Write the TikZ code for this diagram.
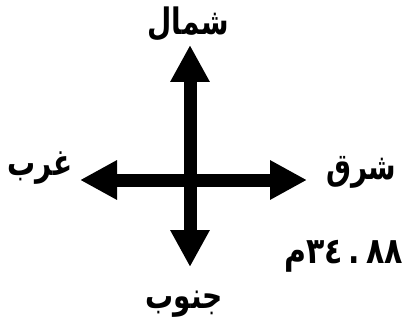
\documentclass[tikz,border=0pt]{standalone}
\usepackage{fontspec}
\usepackage{graphicx}
\usetikzlibrary{arrows.meta}
\newfontfamily\arabicfont[Script=Arabic]{DejaVu Sans}
\TeXXeTstate=1
\newcommand{\tallar}[1]{\scalebox{1}[1.3]{\beginR #1\endR}}
\tikzset{
  compass/.style={line width=13pt, {Triangle[length=37pt,width=37pt]}-{Triangle[length=37pt,width=37pt]}},
  lbl/.style={font=\arabicfont\bfseries\fontsize{28}{32}\selectfont, inner sep=0pt}
}
\begin{document}
\begin{tikzpicture}[x=1pt,y=-1pt]
\useasboundingbox[fill=white] (0,0) rectangle (402,329);
\coordinate (n) at (190,45);
\coordinate (s) at (190,267);
\coordinate (w) at (80,180);
\coordinate (e) at (307,180);
\draw[compass] (s) -- (n);
\draw[compass] (w) -- (e);
\node[lbl] (north) at (188,24) {\tallar{شمال}};
\node[lbl] (south) at (184,304) {\tallar{جنوب}};
\node[lbl] (west) at (40,168) {\tallar{غرب}};
\node[lbl] (east) at (361,172) {\tallar{شرق}};
\node[lbl, font=\arabicfont\bfseries\fontsize{30}{34}\selectfont, anchor=west] (dist) at (284,256) {\scalebox{1}[1.2]{\beginR\beginL ٣٤\hspace{6pt}.\hspace{6pt}٨٨\endL م\endR}};
\end{tikzpicture}
\end{document}
